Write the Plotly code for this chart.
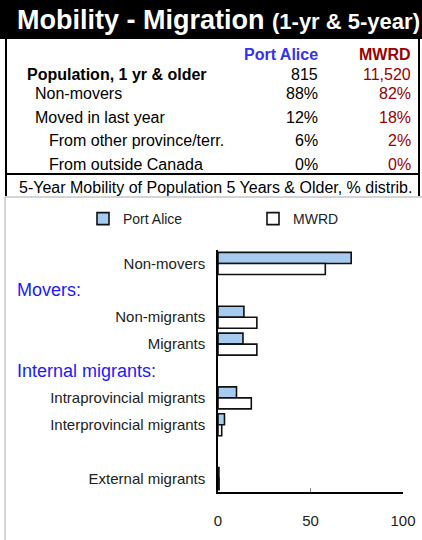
import plotly.graph_objects as go

# ---- data ----
table_rows = ["Population, 1 yr & older", "Non-movers", "Moved in last year",
              "From other province/terr.", "From outside Canada"]
table_port_alice = ["815", "88%", "12%", "6%", "0%"]
table_mwrd = ["11,520", "82%", "18%", "2%", "0%"]

rows = ["Non-movers", "Movers:", "Non-migrants", "Migrants", "Internal migrants:",
        "Intraprovincial migrants", "Interprovincial migrants", "", "External migrants"]
port_alice = [72, None, 14, 13.5, None, 10, 3.5, None, 0.5]
mwrd = [58, None, 21, 21, None, 18, 2, None, 0.6]
x_ticks = [0, 50, 100]

# ---- layout helpers (pixel -> paper) ----
W, H = 422, 540
L, R, T, B = 218, 19, 250, 48

def px(x):
    return (x - L) / (W - L - R)

def py(y):
    return (H - B - y) / (H - T - B)

FONT = "Liberation Sans, Arial, sans-serif"
BLUE_HDR = "#3333EE"
RED = "#990000"

ypos = list(range(len(rows)))
data_idx = [i for i, v in enumerate(port_alice) if v is not None]
header_idx = [i for i, v in enumerate(port_alice) if v is None and rows[i]]

fig = go.Figure()
fig.add_trace(go.Bar(
    name="Port Alice", y=ypos, x=port_alice, orientation="h",
    marker=dict(color="#A6CAF0", line=dict(color="#111", width=1.6)),
))
fig.add_trace(go.Bar(
    name="MWRD", y=ypos, x=mwrd, orientation="h",
    marker=dict(color="white", line=dict(color="#111", width=1.6)),
))

def hline(x0, x1, y, color, width):
    return dict(type="line", xref="paper", yref="paper", x0=px(x0), x1=px(x1),
                y0=py(y), y1=py(y), line=dict(color=color, width=width))

def vline(x, y0, y1, color, width):
    return dict(type="line", xref="paper", yref="paper", x0=px(x), x1=px(x),
                y0=py(y0), y1=py(y1), line=dict(color=color, width=width))

shapes = [
    # black title band
    dict(type="rect", xref="paper", yref="paper", x0=px(0), x1=px(W),
         y0=py(0), y1=py(39), fillcolor="black", line_width=0),
    # table box
    vline(6, 39, 196, "black", 2),
    vline(419, 39, 196, "black", 2),
    hline(6, 419, 174, "black", 2),
    # chart frame
    hline(5, W, 197, "#aaaaaa", 1),
    vline(5, 197, H, "#aaaaaa", 1),
]

def note(text, x, y, anchor="left", size=16, color="black"):
    return dict(text=text, x=px(x), y=py(y), xref="paper", yref="paper",
                xanchor=anchor, yanchor="middle", showarrow=False,
                font=dict(size=size, color=color, family=FONT))

ann = [note("<b>Mobility - Migration</b> <b><span style='font-size:22px'>"
            "(1-yr &amp; 5-year)</span></b>", 15, 20, size=27, color="white")]

# table header
ann.append(note("<b>Port Alice</b>", 320, 54, "right", color=BLUE_HDR))
ann.append(note("<b>MWRD</b>", 413, 54, "right", color=RED))

row_y = [74, 93, 117, 140, 164]
row_x = [25, 33, 33, 47, 47]
for i, label in enumerate(table_rows):
    txt = label.replace("&", "&amp;")
    if i == 0:
        txt = f"<b>{txt}</b>"
    ann.append(note(txt, row_x[i], row_y[i]))
    ann.append(note(table_port_alice[i], 320, row_y[i], "right"))
    ann.append(note(table_mwrd[i], 413, row_y[i], "right", color=RED))

ann.append(note("5-Year Mobility of Population 5 Years &amp; Older, % distrib.", 17, 187))

# group headers inside the chart
for i in header_idx:
    ann.append(dict(text=rows[i], x=px(15), y=i, xref="paper", yref="y",
                    xanchor="left", yanchor="middle", showarrow=False,
                    font=dict(size=18, color="#1a1aff", family=FONT)))

fig.update_layout(
    width=W, height=H,
    margin=dict(l=L, r=R, t=T, b=B, autoexpand=False),
    paper_bgcolor="white", plot_bgcolor="white",
    barmode="group", bargap=0.18, bargroupgap=0,
    font=dict(family=FONT, color="#222"),
    shapes=shapes, annotations=ann,
    showlegend=True,
    legend=dict(orientation="h", x=px(83), xanchor="left", y=py(219),
                yanchor="middle", entrywidth=125, font=dict(size=14, color="#222"),
                traceorder="normal", bgcolor="rgba(0,0,0,0)"),
    xaxis=dict(range=[0, 100], tickvals=x_ticks, showgrid=False, zeroline=False,
               showline=True, linecolor="black", linewidth=1.5,
               ticks="inside", ticklen=4, tickcolor="#888", automargin=False,
               tickfont=dict(size=15, color="#222"), ticklabelstandoff=14,
               fixedrange=True),
    yaxis=dict(range=[len(rows) - 0.5, -0.5], tickmode="array",
               tickvals=data_idx, ticktext=[rows[i] for i in data_idx],
               showgrid=False, zeroline=False, showline=True, linecolor="black",
               linewidth=1.5, ticks="", tickfont=dict(size=15, color="#222"),
               ticklabelstandoff=8, automargin=False, fixedrange=True),
)

fig.write_html("out.html", config={"displayModeBar": False},
               post_script="document.body.style.margin='0';")
